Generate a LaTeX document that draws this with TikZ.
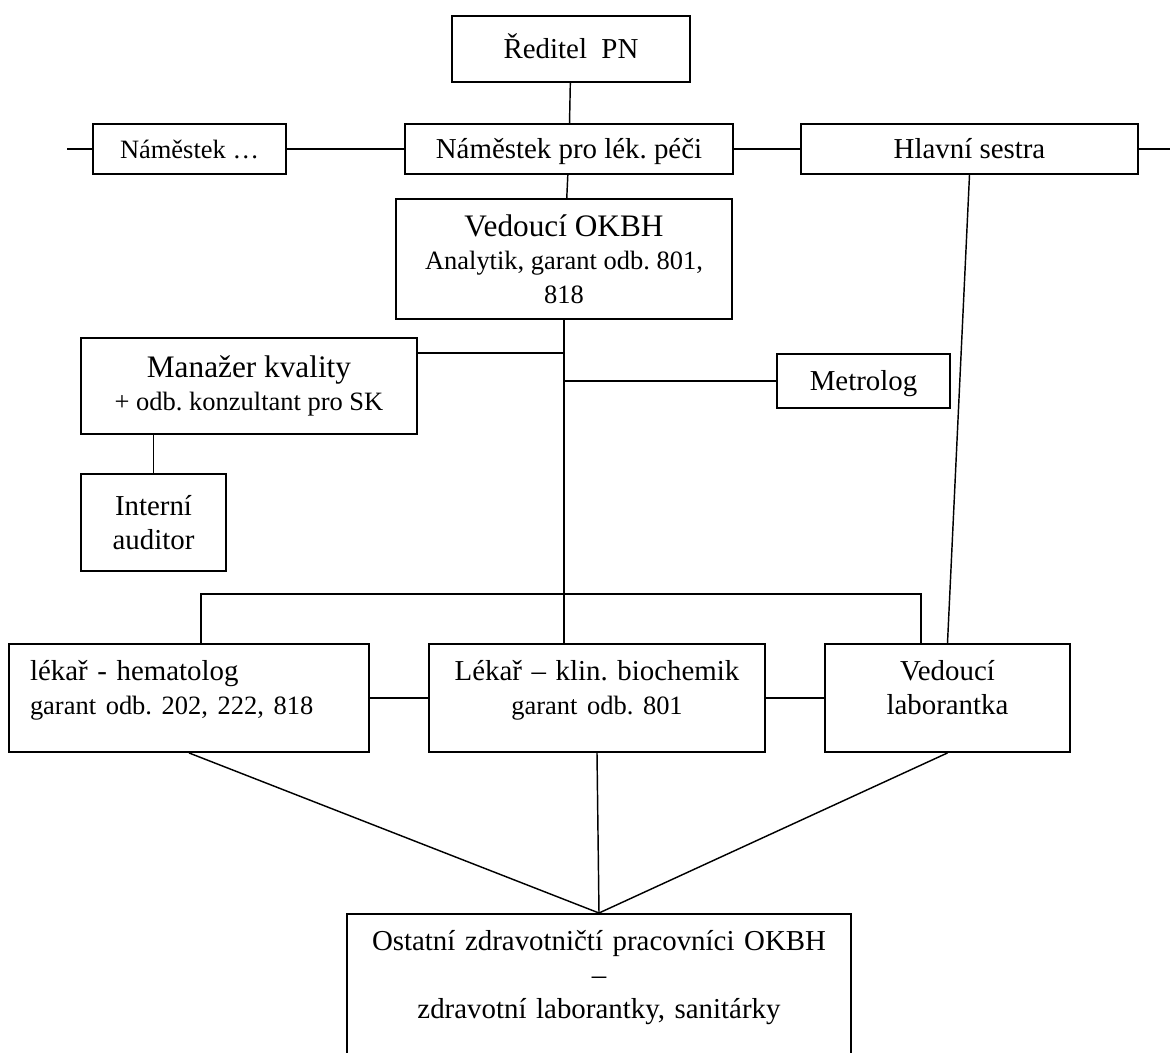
\documentclass[tikz,border=0pt]{standalone}
\usepackage{fontspec}
\setmainfont{Liberation Serif}
\usetikzlibrary{calc}
\frenchspacing

\newlength\pxu
\setlength\pxu{0.0146cm}
\newcommand\toplab{\fontsize{13}{14}\selectfont}
\newcommand\midlab{\fontsize{12}{14}\selectfont}
\newcommand\sublab{\fontsize{11}{14}\selectfont}

\begin{document}
\begin{tikzpicture}[x=0.0146cm,y=-0.0146cm,line width=0.6pt,
  box/.style={draw,line width=0.8pt,inner sep=0pt,align=center,font=\midlab},
  one/.style={text height=26\pxu,text depth=8\pxu},
  low/.style={anchor=north,inner xsep=18\pxu,inner ysep=16\pxu,text height=21\pxu,text depth=55\pxu}]

\useasboundingbox (0,0) rectangle (1170,1053);
\clip (0,0) rectangle (1170,1053);

% Director
\node[box,one,minimum width=238\pxu,minimum height=66\pxu] (dir) at (571,49) {Ředitel\ \ PN};

% Deputies
\node[box,one,font=\sublab,minimum width=193\pxu,minimum height=50\pxu] (namX) at (189.5,149) {Náměstek …};
\node[box,one,minimum width=328\pxu,minimum height=50\pxu] (namL) at (569,149) {Náměstek pro lék. péči};
\node[box,one,minimum width=337\pxu,minimum height=50\pxu] (hlS) at (969.5,149) {Hlavní sestra};
\coordinate (lend) at (67,149);
\coordinate (rend) at (1170,149);

% Head of department
\node[box,font=\sublab,minimum width=336\pxu,minimum height=120\pxu] (ved) at (564,259)
  {{\toplab Vedoucí OKBH}\\Analytik, garant odb. 801,\\818};

% Quality
\node[box,font=\sublab,minimum width=336\pxu,minimum height=96\pxu] (man) at (249,386)
  {{\toplab Manažer kvality}\\+ odb. konzultant pro SK};
\node[box,minimum width=145\pxu,minimum height=97\pxu] (aud) at (153.5,522.5) {Interní\\auditor};
\node[box,one,minimum width=173\pxu,minimum height=54\pxu] (met) at (863.5,381) {Metrolog};

% Doctors and head lab
\node[box,low,align=left,text width=318\pxu,inner xsep=21\pxu] (hem) at (189,643)
  {lékař - hematolog\\{\sublab garant odb. 202, 222, 818}};
\node[box,low,text width=300\pxu] (bio) at (597,643)
  {Lékař – klin. biochemik\\{\sublab garant odb. 801}};
\node[box,low,text width=209\pxu] (lab) at (947.5,643) {Vedoucí\\laborantka};

% Staff
\node[box,low,text width=468\pxu,text depth=160\pxu] (ost) at (599,913)
  {Ostatní zdravotničtí pracovníci OKBH\\–\\zdravotní laborantky, sanitárky};

% Lines
\draw (dir) -- (namL);
\draw (lend) -- (namX);
\draw (namX) -- (namL);
\draw (namL) -- (hlS);
\draw (hlS) -- (rend);
\draw (namL) -- (ved);
\draw (hlS.south) -- (lab.north);

% Trunk
\draw (ved.south) -- (ved.south |- bio.north);
\coordinate (mq) at ($(man.north east)+(0,16)$);
\draw (mq) -- (mq -| ved.south);
\draw (met.west -| ved.south) -- (met.west);
\draw (aud.north |- man.south) -- (aud.north);

% Bracket
\coordinate (brL) at (201,594);
\coordinate (brR) at (921,594);
\draw (brL |- hem.north) -- (brL) -- (brR) -- (brR |- lab.north);
\draw (hem) -- (bio);
\draw (bio) -- (lab);

% To staff
\draw (hem.south) -- (ost.north);
\draw (bio.south) -- (ost.north);
\draw (lab.south) -- (ost.north);
\end{tikzpicture}
\end{document}
